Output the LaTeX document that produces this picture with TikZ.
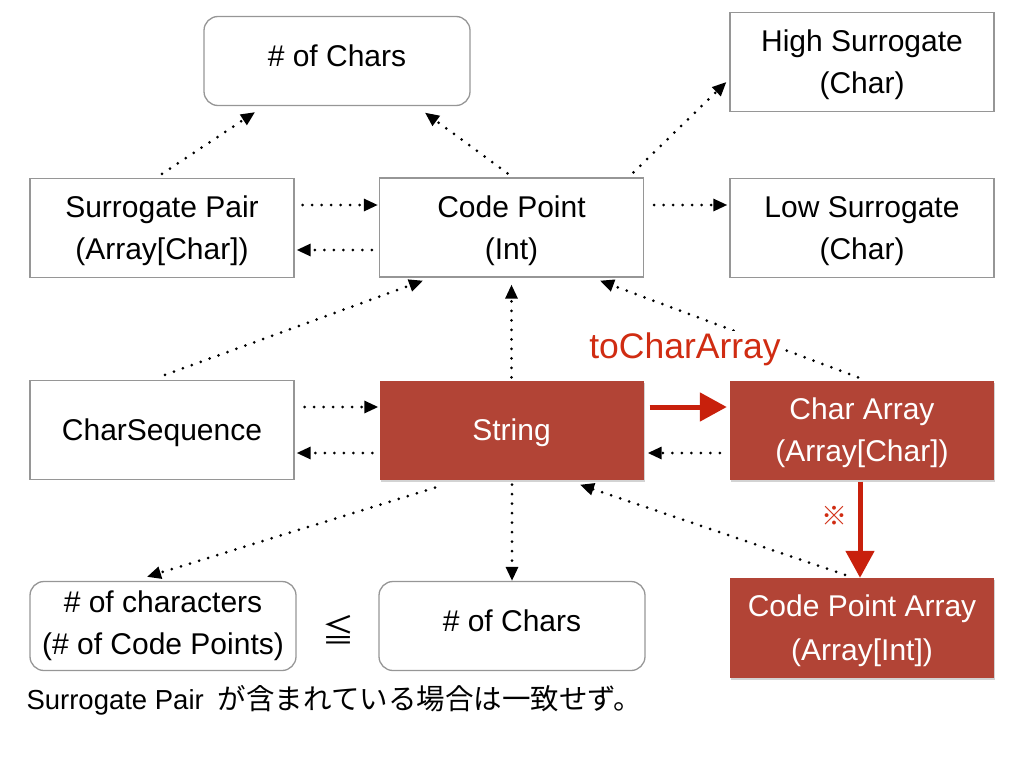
\documentclass[tikz,border=0pt]{standalone}
\usepackage{fontspec}
\setmainfont{Liberation Sans}
\newfontfamily\cjk{Noto Sans CJK JP}
\usetikzlibrary{arrows.meta,shadows}
\definecolor{boxred}{RGB}{178,68,54}
\definecolor{labred}{RGB}{208,44,18}
\definecolor{arrred}{RGB}{200,32,12}
\definecolor{boxgray}{RGB}{150,150,150}
\begin{document}
\begin{tikzpicture}[x=1pt,y=-1pt,
  base/.style={minimum width=264pt,minimum height=99pt,align=center,inner sep=0pt,font=\fontsize{30}{42}\selectfont},
  plainbox/.style={base,draw=boxgray,line width=1.3pt},
  roundbox/.style={plainbox,rounded corners=14pt,minimum width=266pt,minimum height=89pt},
  redbox/.style={base,fill=boxred,text=white,drop shadow={opacity=0.35,shadow xshift=1pt,shadow yshift=-2pt}},
  twoline/.style={text depth=-6pt},
  oneline/.style={text depth=0pt},
  dotarrow/.style={line width=3pt,line cap=round,dash pattern=on 0pt off 9.5pt,-{Triangle[length=14pt,width=12pt]}},
  redarrow/.style={draw=arrred,line width=5pt,-{Triangle[length=27pt,width=28pt]}}]
\useasboundingbox (0,0) rectangle (1024,768);
% nodes
\node[roundbox,text depth=10pt] (top) at (337,61) {\# of Chars};
\node[plainbox,text depth=-7pt] (hs) at (862,62) {High Surrogate\\(Char)};
\node[plainbox,twoline] (sp) at (162,228) {Surrogate Pair\\(Array[Char])};
\node[plainbox,twoline] (cp) at (511.5,227.5) {Code Point\\(Int)};
\node[plainbox,twoline] (ls) at (862,228) {Low Surrogate\\(Char)};
\node[plainbox,oneline] (cs) at (162,430) {CharSequence};
\node[redbox,oneline] (str) at (511.5,430) {String};
\node[redbox,twoline] (ca) at (862,430) {Char Array\\(Array[Char])};
\node[roundbox] (nc) at (163,626) {\# of characters\\(\# of Code Points)};
\node[roundbox,text depth=10pt] (nb) at (512,626) {\# of Chars};
\node[redbox,twoline,minimum height=100pt,font=\fontsize{30}{44}\selectfont] (cpa) at (862,628) {Code Point Array\\(Array[Int])};
\node[font=\fontsize{32}{34}\selectfont] (le) at (338,630) {\cjk ≦};
\node[anchor=west,font=\fontsize{27.5}{30}\selectfont] (note) at (23,700) {Surrogate Pair\hspace{14pt}{\cjk\fontsize{28.5}{30}\selectfont が含まれている場合は一致せず。}};
\node[text=labred,font=\fontsize{26}{28}\selectfont] (mark) at (834,516) {\cjk ※};
% dotted arrows
\draw[dotarrow] ([shift={(0,-4)}]sp.north) -- ([shift={(-82,6)}]top.south);
\draw[dotarrow] ([shift={(-4,-4)}]cp.north) -- ([shift={(88,6.5)}]top.south);
\draw[dotarrow] ([shift={(122,-5)}]cp.north) -- ([shift={(-3,20)}]hs.west);
\draw[dotarrow] ([shift={(8,-23)}]sp.east) -- ([shift={(-1,-22.5)}]cp.west);
\draw[dotarrow] ([shift={(-7,22.5)}]cp.west) -- ([shift={(2,22)}]sp.east);
\draw[dotarrow] ([shift={(10,-22.5)}]cp.east) -- ([shift={(-2,-23)}]ls.west);
\draw[dotarrow] ([shift={(3,-5)}]cs.north) -- ([shift={(-88.5,3)}]cp.south);
\draw[dotarrow] ([shift={(0,-3)}]str.north) -- ([shift={(0,7)}]cp.south);
\draw[dotarrow] ([shift={(-4,-3)}]ca.north) -- ([shift={(88.5,3)}]cp.south);
\draw[dotarrow] ([shift={(10,-23)}]cs.east) -- ([shift={(-1,-23)}]str.west);
\draw[dotarrow] ([shift={(-7,23)}]str.west) -- ([shift={(2,23)}]cs.east);
\draw[dotarrow] ([shift={(-10,23)}]ca.west) -- ([shift={(4,23)}]str.east);
\draw[dotarrow] ([shift={(-76.5,8)}]str.south) -- ([shift={(-16,-4)}]nc.north);
\draw[dotarrow] ([shift={(0.5,5)}]str.south) -- (nb.north);
\draw[dotarrow] ([shift={(-17,-3)}]cpa.north) -- ([shift={(68.5,5)}]str.south);
% label on arrow
\node[fill=white,text=labred,inner sep=1pt,font=\fontsize{35.5}{38}\selectfont] (lab) at (685,349) {toCharArray};
% red arrows
\draw[redarrow] ([shift={(6,-23)}]str.east) -- ([shift={(-3,-23)}]ca.west);
\draw[redarrow] ([shift={(-2,2)}]ca.south) -- ([shift={(-2,0)}]cpa.north);
\end{tikzpicture}
\end{document}
